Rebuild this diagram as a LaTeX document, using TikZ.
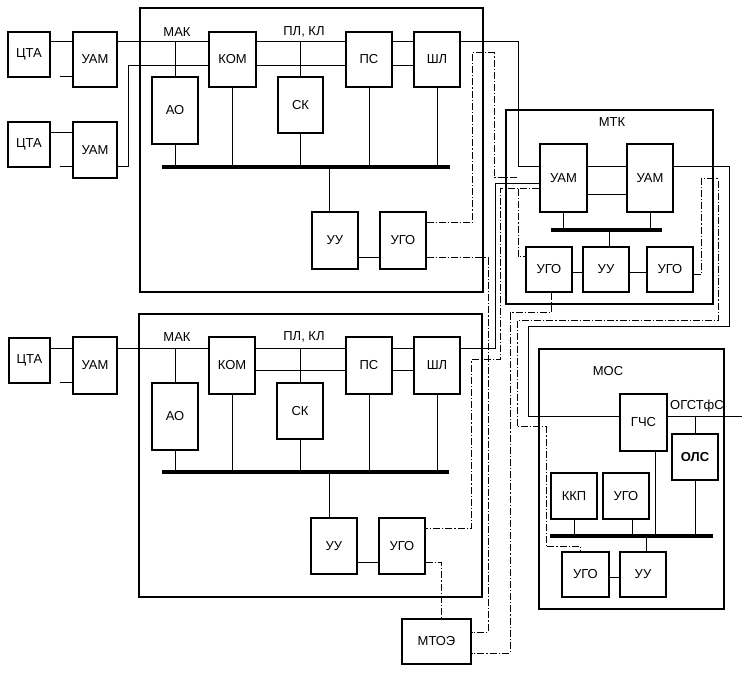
\documentclass[tikz,border=0pt]{standalone}
\usepackage{fontspec}
\setmainfont{Liberation Sans}

\begin{document}
\begin{tikzpicture}[x=1pt,y=-1pt,
    blk/.style={draw, line width=1.2pt, inner sep=0pt, minimum width=46pt, minimum height=55pt, font=\fontsize{13}{15}\selectfont},
    frm/.style={draw, line width=1.1pt, inner sep=0pt},
    lbl/.style={inner sep=0pt, font=\fontsize{13}{15}\selectfont},
    ln/.style={line width=1pt},
    bus/.style={line width=4pt},
    ctl/.style={line width=1pt, dash pattern=on 7pt off 2pt on 1.2pt off 2pt}]
                \useasboundingbox (0,0) rectangle (748,676);

                % frames of the modules
                \node [frm, minimum width=343pt, minimum height=284pt] (mak1) at (311.5,150) {};
                \node [frm, minimum width=343pt, minimum height=283pt] (mak2) at (310.5,455.5) {};
                \node [frm, minimum width=207pt, minimum height=194pt] (mtk) at (609.5,207) {};
                \node [frm, minimum width=185pt, minimum height=260pt] (mos) at (631.5,479) {};

                \node [lbl] (makA) at (177,32) {МАК};
                \node [lbl] (plA) at (304,32) {ПЛ, КЛ};
                \node [lbl] (makB) at (177,337) {МАК};
                \node [lbl] (plB) at (304,337) {ПЛ, КЛ};
                \node [lbl] (mtkl) at (612,122) {МТК};
                \node [lbl] (mosl) at (608,371) {МОС};
                \node [lbl] (ogst) at (697,406) {ОГСТфС};

                % upper MAK
                \node [blk, minimum width=42pt, minimum height=45pt] (cta1) at (29,54.5) {ЦТА};
                \node [blk, minimum width=44pt] (uam1) at (95,59.5) {УАМ};
                \node [blk, minimum width=42pt, minimum height=45pt] (cta2) at (29,144.5) {ЦТА};
                \node [blk, minimum width=44pt, minimum height=56pt] (uam2) at (95,150) {УАМ};
                \node [blk, minimum width=47pt] (kom1) at (232.5,59.5) {КОМ};
                \node [blk, minimum height=67pt] (ao1) at (175,110.5) {АО};
                \node [blk, minimum width=45pt, minimum height=56pt] (sk1) at (300.5,105) {СК};
                \node [blk] (ps1) at (369,59.5) {ПС};
                \node [blk] (shl1) at (437,59.5) {ШЛ};
                \node [blk, minimum height=57pt] (uu1) at (335,240.5) {УУ};
                \node [blk, minimum height=57pt] (ugo1) at (403,240.5) {УГО};

                % lower MAK
                \node [blk, minimum width=41pt, minimum height=45pt] (cta3) at (29.5,360.5) {ЦТА};
                \node [blk, minimum width=44pt, minimum height=57pt] (uam3) at (95,365.5) {УАМ};
                \node [blk, minimum height=57pt] (kom2) at (232,365.5) {КОМ};
                \node [blk, minimum height=67pt] (ao2) at (175,416.5) {АО};
                \node [blk, minimum height=56pt] (sk2) at (300,411) {СК};
                \node [blk, minimum height=57pt] (ps2) at (369,365.5) {ПС};
                \node [blk, minimum height=57pt] (shl2) at (437,365.5) {ШЛ};
                \node [blk, minimum height=56pt] (uu2) at (334,546) {УУ};
                \node [blk, minimum height=56pt] (ugo2) at (402,546) {УГО};

                % MTK
                \node [blk, minimum width=47pt, minimum height=68pt] (uamA) at (563.5,178) {УАМ};
                \node [blk, minimum height=68pt] (uamB) at (650,178) {УАМ};
                \node [blk, minimum height=45pt] (ugoA) at (549,269.5) {УГО};
                \node [blk, minimum height=45pt] (uuM) at (606,269.5) {УУ};
                \node [blk, minimum height=45pt] (ugoB) at (670,269.5) {УГО};

                % MOS
                \node [blk, minimum width=47pt, minimum height=57pt] (gchs) at (643.5,422.5) {ГЧС};
                \node [blk, minimum height=46pt, font=\fontsize{13}{15}\selectfont\bfseries] (ols) at (695,457) {ОЛС};
                \node [blk, minimum height=46pt] (kkp) at (574,496) {ККП};
                \node [blk, minimum height=46pt] (ugoC) at (626,496) {УГО};
                \node [blk, minimum width=47pt, minimum height=45pt] (ugoD) at (585.5,574.5) {УГО};
                \node [blk, minimum height=45pt] (uuC) at (643,574.5) {УУ};

                \node [blk, minimum width=69pt, minimum height=45pt] (mtoe) at (436.5,641.5) {МТОЭ};

                % rails and bends
                \coordinate (ya) at (0,42);
                \coordinate (yb) at (0,66);
                \coordinate (yc) at (0,349);
                \coordinate (yd) at (0,371);
                \coordinate (s1) at (60,77);
                \coordinate (s2) at (60,167);
                \coordinate (s3) at (60,383);
                \coordinate (y2) at (0,133);
                \coordinate (b1) at (128,66);
                \coordinate (yu1) at (0,258);
                \coordinate (yu2) at (0,563);
                \coordinate (bus1w) at (162,167);
                \coordinate (bus1e) at (450,167);
                \coordinate (bus2w) at (162,472);
                \coordinate (bus2e) at (449,472);
                \coordinate (bus3w) at (551,230);
                \coordinate (bus3e) at (662,230);
                \coordinate (bus4w) at (550,536);
                \coordinate (bus4e) at (713,536);

                % upper MAK links
                \draw[ln] (cta1.east |- ya) -- (uam1.west |- ya);
                \draw[ln] (s1) -- (uam1.west |- s1);
                \draw[ln] (cta2.east |- y2) -- (uam2.west |- y2);
                \draw[ln] (s2) -- (uam2.west |- s2);
                \draw[ln] (uam1.east |- ya) -- (kom1.west |- ya);
                \draw[ln] (uam2.east |- s2) -| (b1) -- (kom1.west |- b1);
                \draw[ln] (kom1.east |- ya) -- (ps1.west |- ya);
                \draw[ln] (ps1.east |- ya) -- (shl1.west |- ya);
                \draw[ln] (kom1.east |- yb) -- (ps1.west |- yb);
                \draw[ln] (ps1.east |- yb) -- (shl1.west |- yb);
                \draw[ln] (ao1.north |- ya) -- (ao1.north);
                \draw[ln] (sk1.north |- ya) -- (sk1.north);
                \draw[bus] (bus1w) -- (bus1e);
                \draw[ln] (ao1.south) -- (ao1.south |- bus1w);
                \draw[ln] (kom1.south) -- (kom1.south |- bus1w);
                \draw[ln] (sk1.south) -- (sk1.south |- bus1w);
                \draw[ln] (ps1.south) -- (ps1.south |- bus1w);
                \draw[ln] (shl1.south) -- (shl1.south |- bus1w);
                \draw[ln] ([xshift=-6pt]uu1.north |- bus1w) -- ([xshift=-6pt]uu1.north);
                \draw[ln] (uu1.east |- yu1) -- (ugo1.west |- yu1);

                % lower MAK links
                \draw[ln] (cta3.east |- yc) -- (uam3.west |- yc);
                \draw[ln] (s3) -- (uam3.west |- s3);
                \draw[ln] (uam3.east |- yc) -- (kom2.west |- yc);
                \draw[ln] (kom2.east |- yc) -- (ps2.west |- yc);
                \draw[ln] (ps2.east |- yc) -- (shl2.west |- yc);
                \draw[ln] (kom2.east |- yd) -- (ps2.west |- yd);
                \draw[ln] (ps2.east |- yd) -- (shl2.west |- yd);
                \draw[ln] (ao2.north |- yc) -- (ao2.north);
                \draw[ln] (sk2.north |- yc) -- (sk2.north);
                \draw[bus] (bus2w) -- (bus2e);
                \draw[ln] (ao2.south) -- (ao2.south |- bus2w);
                \draw[ln] (kom2.south) -- (kom2.south |- bus2w);
                \draw[ln] (sk2.south) -- (sk2.south |- bus2w);
                \draw[ln] (ps2.south) -- (ps2.south |- bus2w);
                \draw[ln] (shl2.south) -- (shl2.south |- bus2w);
                \draw[ln] ([xshift=-5pt]uu2.north |- bus2w) -- ([xshift=-5pt]uu2.north);
                \draw[ln] (uu2.east |- yu2) -- (ugo2.west |- yu2);

                % MTK links
                \coordinate (k1) at (518,167);
                \coordinate (y3) at (0,195);
                \coordinate (y4) at (0,273);
                \draw[ln] (uamA.east |- k1) -- (uamB.west |- k1);
                \draw[ln] (uamA.east |- y3) -- (uamB.west |- y3);
                \draw[bus] (bus3w) -- (bus3e);
                \draw[ln] (uamA.south) -- (uamA.south |- bus3w);
                \draw[ln] (uamB.south) -- (uamB.south |- bus3w);
                \draw[ln] ([xshift=3pt]uuM.north |- bus3w) -- ([xshift=3pt]uuM.north);
                \draw[ln] (ugoA.east |- y4) -- (uuM.west |- y4);
                \draw[ln] (uuM.east |- y4) -- (ugoB.west |- y4);

                % MOS links
                \coordinate (yg) at (0,417);
                \coordinate (y5) at (0,578);
                \coordinate (out) at (742,417);
                \draw[ln] (gchs.east |- yg) -- (out);
                \draw[ln] (ols.north |- yg) -- (ols.north);
                \draw[bus] (bus4w) -- (bus4e);
                \draw[ln] (kkp.south) -- (kkp.south |- bus4w);
                \draw[ln] ([xshift=6pt]ugoC.south) -- ([xshift=6pt]ugoC.south |- bus4w);
                \draw[ln] ([xshift=11.5pt]gchs.south) -- ([xshift=11.5pt]gchs.south |- bus4w);
                \draw[ln] (ols.south) -- (ols.south |- bus4w);
                \draw[ln] ([xshift=3pt]uuC.north |- bus4w) -- ([xshift=3pt]uuC.north);
                \draw[ln] (ugoD.east |- y5) -- (uuC.west |- y5);

                % trunk lines between modules
                \coordinate (k2) at (495,184);
                \coordinate (k3) at (729,167);
                \coordinate (k4) at (528,327);
                \draw[ln] (shl1.east |- ya) -| (k1) -- (uamA.west |- k1);
                \draw[ln] (uamA.west |- k2) -- (k2) |- (shl2.east |- yc);
                \draw[ln] (uamB.east |- k3) -- (k3) |- (k4) |- (gchs.west |- yg);

                % control lines
                \coordinate (c0) at (0,223);
                \coordinate (c1) at (472,53);
                \coordinate (c2) at (494,178);
                \coordinate (c3) at (518,178);
                \coordinate (c4) at (488,632);
                \coordinate (c5) at (500,189);
                \coordinate (c6) at (471,529);
                \coordinate (c7) at (518,189);
                \coordinate (c8) at (0,257);
                \coordinate (c9) at (510,313);
                \coordinate (c10) at (0,653);
                \coordinate (d1) at (701,179);
                \coordinate (d2) at (718,321);
                \coordinate (d3) at (517,427);
                \coordinate (d4) at (546,547);
                \coordinate (d5) at (0,275);
                \draw[ctl] (ugo1.east |- c0) -| (c1) -| (c2) -- (c3);
                \draw[ctl] (ugo1.east |- yu1) -| (c4) -- (mtoe.east |- c4);
                \draw[ctl] (uamA.west |- c5) -| (0,360 -| c5) -| (c6) -- (ugo2.east |- c6);
                \draw[ctl] (c7) |- (ugoA.west |- c8);
                \draw[ctl] ([xshift=2pt]ugoA.south) |- (c9) |- (mtoe.east |- c10);
                \draw[ctl] (ugoB.east |- d5) -| (d1) -| (d2) -| (d3) -| (d4) -| ([xshift=-5pt]ugoD.north);
                \draw[ctl] (ugo2.east |- yu2) -| ([xshift=5pt]mtoe.north);
\end{tikzpicture}
\end{document}
